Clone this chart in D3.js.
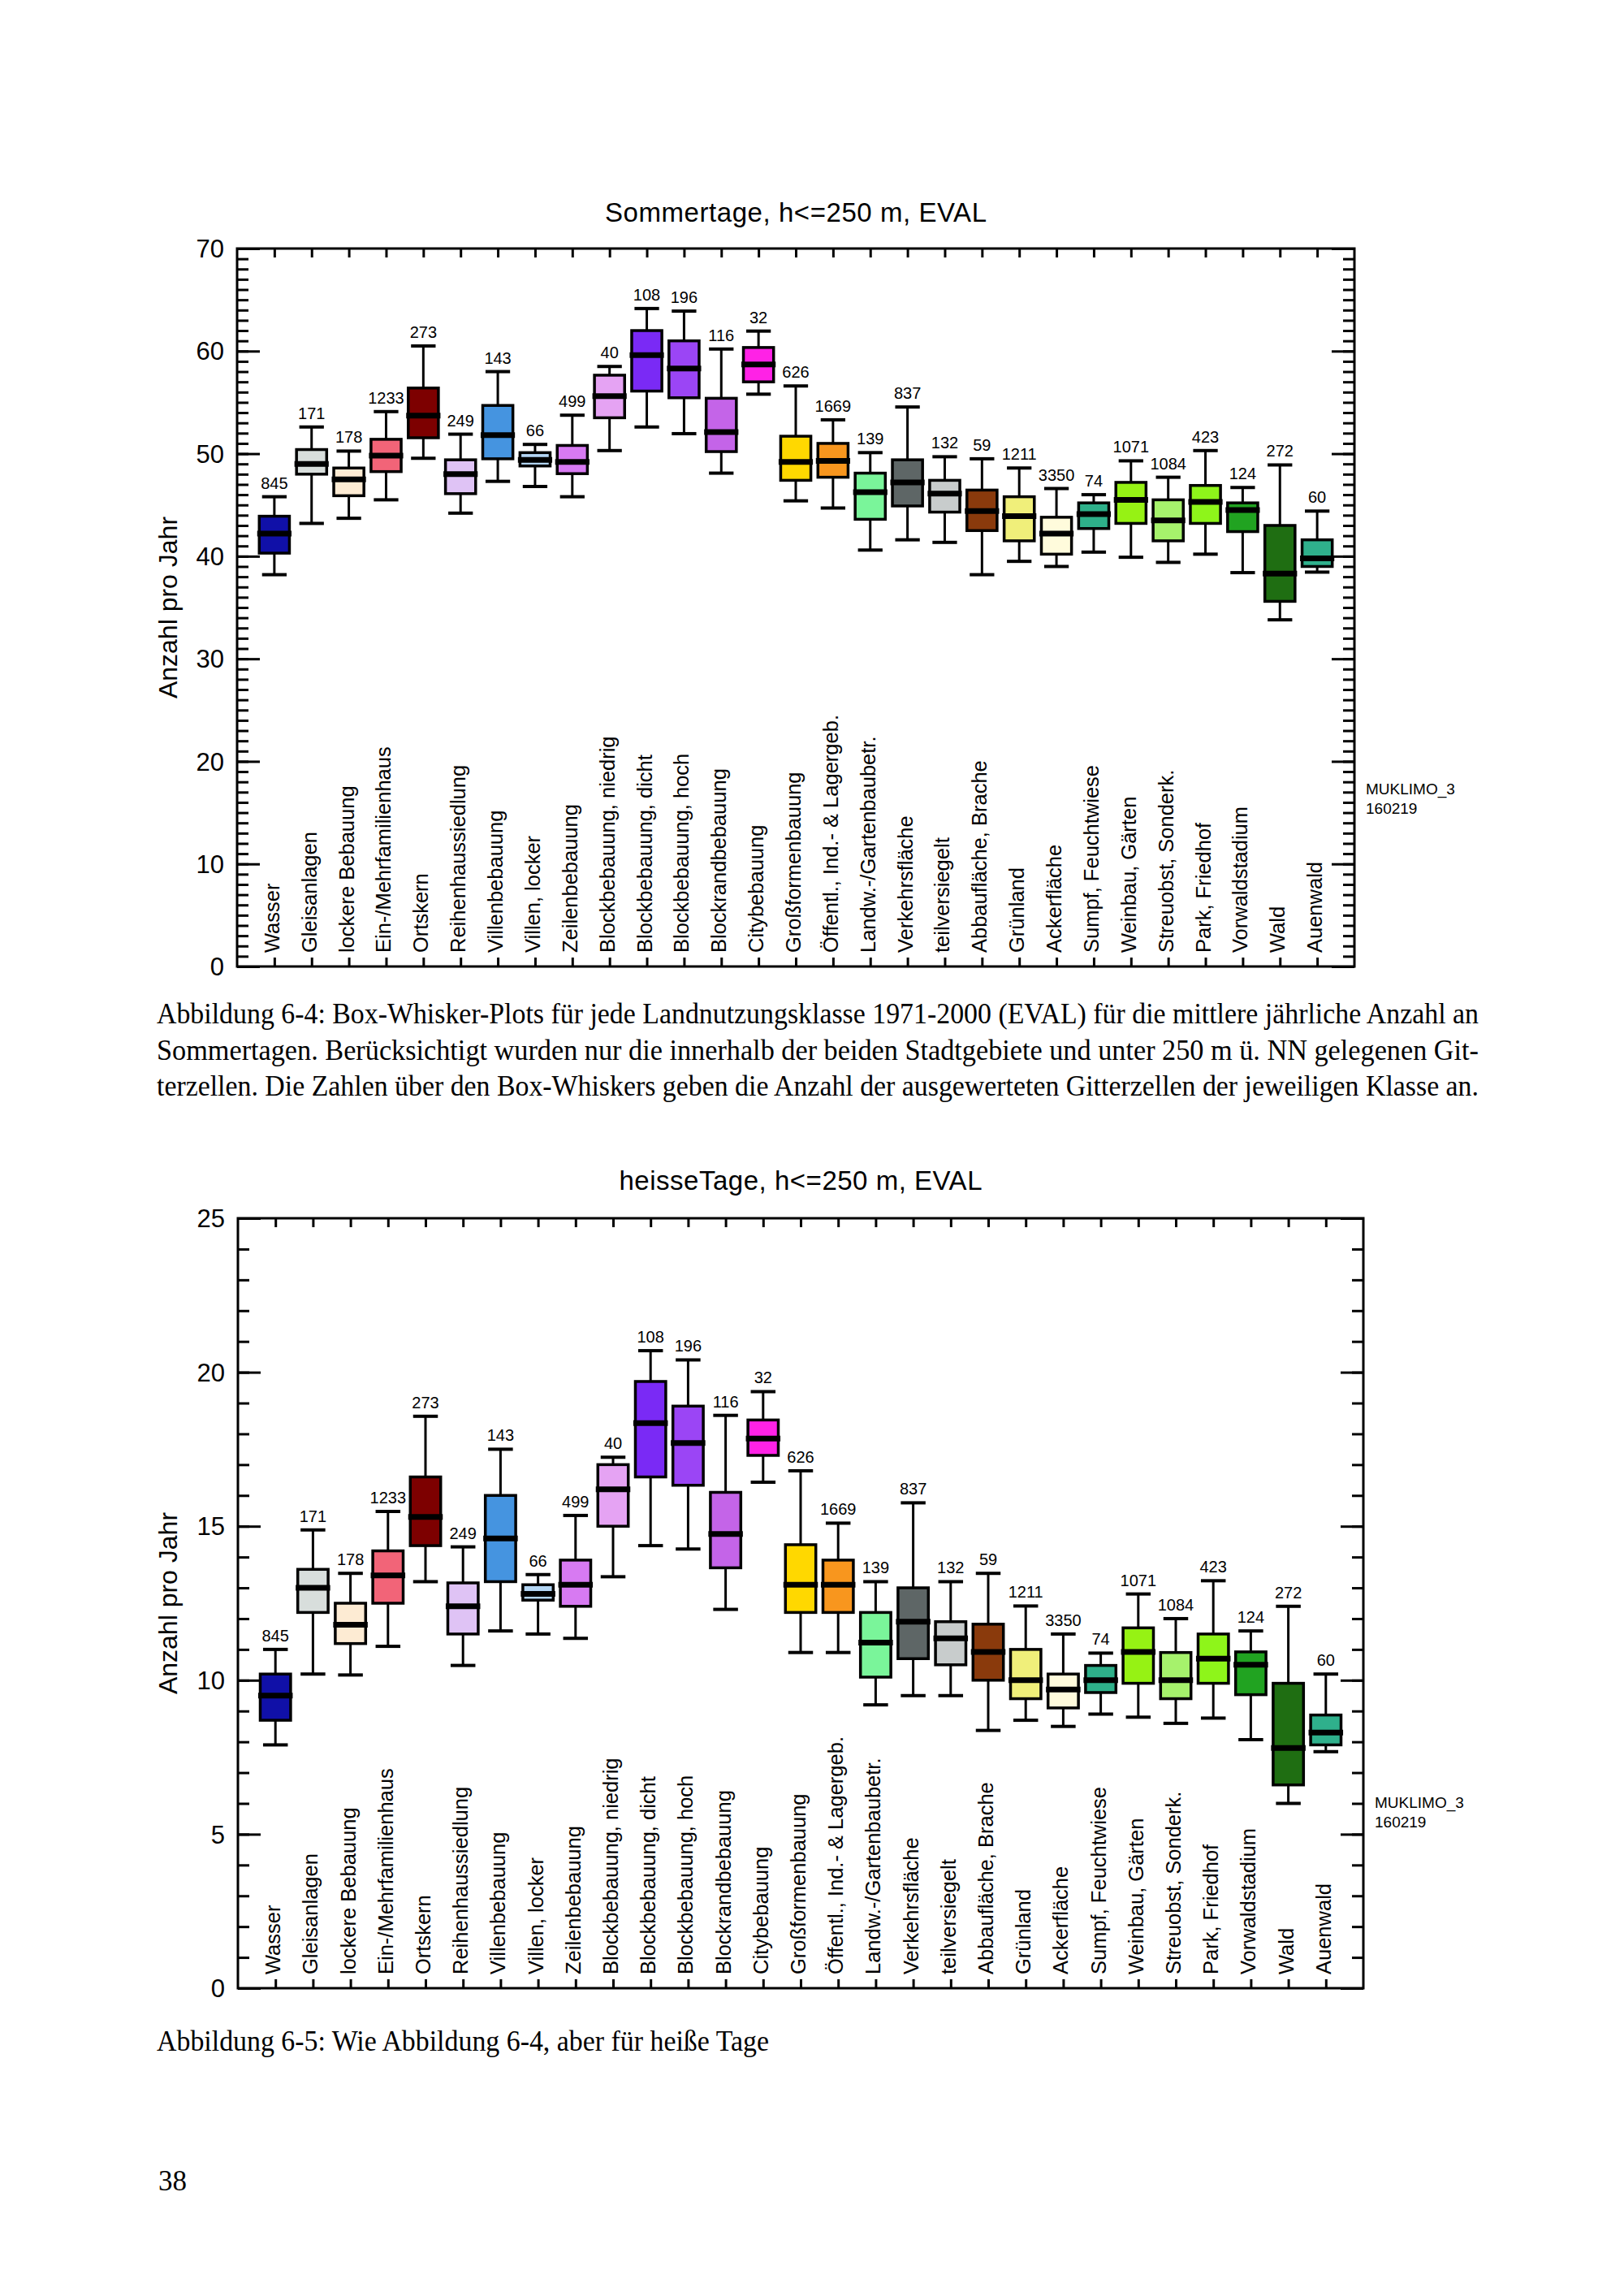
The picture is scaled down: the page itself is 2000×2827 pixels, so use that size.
<!DOCTYPE html>
<html>
<head>
<meta charset="utf-8">
<script src="https://cdn.jsdelivr.net/npm/d3@7"></script>
<style>
body { margin: 0; background: #fff; }
</style>
</head>
<body>
<script>
var w = 2000;
var h = 2827;

// Landnutzungsklassen
var categories = ["Wasser", "Gleisanlagen", "lockere Bebauung", "Ein-/Mehrfamilienhaus", "Ortskern",
    "Reihenhaussiedlung", "Villenbebauung", "Villen, locker", "Zeilenbebauung", "Blockbebauung, niedrig",
    "Blockbebauung, dicht", "Blockbebauung, hoch", "Blockrandbebauung", "Citybebauung", "Großformenbauung",
    "Öffentl., Ind.- & Lagergeb.", "Landw.-/Gartenbaubetr.", "Verkehrsfläche", "teilversiegelt",
    "Abbaufläche, Brache", "Grünland", "Ackerfläche", "Sumpf, Feuchtwiese", "Weinbau, Gärten",
    "Streuobst, Sonderk.", "Park, Friedhof", "Vorwaldstadium", "Wald", "Auenwald"];
var counts = [845, 171, 178, 1233, 273, 249, 143, 66, 499, 40, 108, 196, 116, 32, 626,
    1669, 139, 837, 132, 59, 1211, 3350, 74, 1071, 1084, 423, 124, 272, 60];
var boxColors = ["#1010a8", "#d8dedc", "#fdebd3", "#f26478", "#7d0000", "#dfc3f5", "#4594e0", "#b4d6f4",
    "#d77af2", "#e5a3f3", "#7a2af5", "#9b45f5", "#c464e8", "#ff22e6", "#ffd800", "#f8961e", "#7af59a",
    "#5e6666", "#c8cccc", "#8a3a0c", "#f0ef7a", "#fffbdc", "#2eb08a", "#96f214", "#a6f26c", "#8ef51a",
    "#21a321", "#1f6e12", "#2fb08c"];

// Sommertage
var sommerHigh = [45.8, 52.6, 50.25, 54.1, 60.5, 51.9, 58.0, 50.9, 53.75, 58.5, 64.15, 63.9, 60.2, 61.95, 56.6,
    53.3, 50.1, 54.55, 49.7, 49.5, 48.6, 46.6, 46.0, 49.3, 47.7, 50.3, 46.7, 48.9, 44.4];
var sommerQ3 = [43.9, 50.4, 48.6, 51.4, 56.4, 49.4, 54.7, 50.1, 50.8, 57.65, 62.0, 61.0, 55.4, 60.35, 51.7,
    51.0, 48.1, 49.4, 47.4, 46.45, 45.8, 43.8, 45.2, 47.2, 45.5, 46.9, 45.2, 43.0, 41.6];
var sommerMed = [42.2, 49.0, 47.5, 49.8, 53.7, 48.0, 51.8, 49.4, 49.2, 55.6, 59.6, 58.3, 52.1, 58.7, 49.2,
    49.3, 46.25, 47.2, 46.1, 44.4, 43.9, 42.2, 44.1, 45.5, 43.5, 45.3, 44.5, 38.3, 39.8];
var sommerQ1 = [40.3, 48.0, 45.9, 48.25, 51.55, 46.1, 49.5, 48.8, 48.05, 53.5, 56.1, 55.45, 50.2, 57.0, 47.4,
    47.7, 43.6, 44.9, 44.3, 42.5, 41.5, 40.2, 42.7, 43.2, 41.5, 43.2, 42.4, 35.6, 39.0];
var sommerLow = [38.2, 43.2, 43.7, 45.5, 49.55, 44.2, 47.3, 46.8, 45.8, 50.3, 52.6, 51.95, 48.1, 55.8, 45.4,
    44.7, 40.6, 41.6, 41.35, 38.2, 39.5, 39.0, 40.4, 39.9, 39.4, 40.2, 38.4, 33.8, 38.45];
var sommerTicks = [0, 10, 20, 30, 40, 50, 60, 70];

// heisse Tage
var heissHigh = [11.0, 14.88, 13.47, 15.48, 18.57, 14.33, 17.5, 13.43, 15.35, 17.24, 20.7, 20.4, 18.6, 19.37, 16.8,
    15.1, 13.2, 15.76, 13.2, 13.47, 12.41, 11.5, 10.88, 12.8, 12.0, 13.23, 11.6, 12.4, 10.2];
var heissQ3 = [10.2, 13.6, 12.5, 14.2, 16.6, 13.16, 16.0, 13.1, 13.9, 17.0, 19.7, 18.9, 16.1, 18.45, 14.4,
    13.9, 12.2, 13.0, 11.9, 11.82, 11.0, 10.2, 10.48, 11.7, 10.9, 11.5, 10.92, 9.9, 8.87];
var heissMed = [9.5, 13.0, 11.8, 13.4, 15.3, 12.4, 14.6, 12.8, 13.1, 16.2, 18.35, 17.7, 14.75, 17.85, 13.1,
    13.1, 11.22, 11.9, 11.36, 10.92, 10.0, 9.7, 10.0, 10.92, 10.0, 10.7, 10.5, 7.8, 8.3];
var heissQ1 = [8.7, 12.2, 11.19, 12.5, 14.37, 11.5, 13.2, 12.6, 12.4, 15.0, 16.6, 16.33, 13.65, 17.3, 12.2,
    12.2, 10.1, 10.7, 10.5, 10.0, 9.4, 9.1, 9.6, 9.9, 9.4, 9.9, 9.53, 6.6, 7.9];
var heissLow = [7.9, 10.2, 10.17, 11.1, 13.2, 10.48, 11.6, 11.5, 11.36, 13.36, 14.37, 14.26, 12.3, 16.43, 10.9,
    10.9, 9.2, 9.5, 9.5, 8.37, 8.7, 8.5, 8.9, 8.8, 8.6, 8.77, 8.07, 6.0, 7.68];
var heissTicks = [0, 5, 10, 15, 20, 25];

var caption1 = [
    "Abbildung 6-4: Box-Whisker-Plots für jede Landnutzungsklasse 1971-2000 (EVAL) für die mittlere jährliche Anzahl an",
    "Sommertagen. Berücksichtigt wurden nur die innerhalb der beiden Stadtgebiete und unter 250 m ü. NN gelegenen Git-",
    "terzellen. Die Zahlen über den Box-Whiskers geben die Anzahl der ausgewerteten Gitterzellen der jeweiligen Klasse an."
];
var caption2 = "Abbildung 6-5: Wie Abbildung 6-4, aber für heiße Tage";

var sans = "'Liberation Sans', Arial, Helvetica, sans-serif";
var serif = "'Liberation Serif', 'Times New Roman', serif";

var svg = d3.select("body")
    .append("svg")
    .attr("width", w)
    .attr("height", h);

svg.append("rect").attr("width", w).attr("height", h).attr("fill", "#fff");

function drawChart(cfg) {
    var g = svg.append("g");
    var x = d3.scalePoint()
        .domain(categories)
        .range([cfg.left, cfg.right])
        .padding(1);
    var y = d3.scaleLinear()
        .domain([0, cfg.yMax])
        .range([cfg.bottom, cfg.top]);
    var step = x.step();
    var minor = d3.range(0, cfg.yMax + 1, 1);

    // ticks, all pointing inwards
    function ticks(axis, tx, ty, vals, size) {
        var a = g.append("g")
            .attr("transform", "translate(" + tx + "," + ty + ")")
            .call(axis.tickValues(vals).tickSize(size).tickFormat(""));
        a.select(".domain").remove();
        a.selectAll(".tick line").attr("stroke", "#000").attr("stroke-width", 3);
    }
    ticks(d3.axisRight(y), cfg.left, 0, minor, 14);
    ticks(d3.axisRight(y), cfg.left, 0, cfg.ticks, 28);
    ticks(d3.axisLeft(y), cfg.right, 0, minor, 14);
    ticks(d3.axisLeft(y), cfg.right, 0, cfg.ticks, 28);
    ticks(d3.axisBottom(x), 0, cfg.top, categories, 11);
    ticks(d3.axisTop(x), 0, cfg.bottom, categories, 11);

    // y tick labels
    g.selectAll(".ylab")
        .data(cfg.ticks)
        .enter().append("text")
        .attr("x", cfg.left - 16)
        .attr("y", function(d) { return y(d); })
        .attr("dy", "0.36em")
        .attr("text-anchor", "end")
        .attr("font-family", sans)
        .attr("font-size", 31)
        .text(function(d) { return d; });

    // frame
    g.append("rect")
        .attr("x", cfg.left).attr("y", cfg.top)
        .attr("width", cfg.right - cfg.left).attr("height", cfg.bottom - cfg.top)
        .attr("fill", "none").attr("stroke", "#000").attr("stroke-width", 3);

    // category labels, rotated
    g.selectAll(".xlab")
        .data(categories)
        .enter().append("text")
        .attr("transform", function(d) {
            return "translate(" + (x(d) + 6) + "," + (cfg.bottom - 17) + ") rotate(-90)";
        })
        .attr("font-family", sans)
        .attr("font-size", 25.5)
        .text(function(d) { return d; });

    var boxW = step * 0.81, capW = step * 0.66, medW = step * 0.92;
    var box = g.selectAll(".box")
        .data(categories)
        .enter().append("g");

    box.append("line")
        .attr("x1", function(d) { return x(d); })
        .attr("x2", function(d) { return x(d); })
        .attr("y1", function(d, i) { return y(cfg.low[i]); })
        .attr("y2", function(d, i) { return y(cfg.high[i]); })
        .attr("stroke", "#000").attr("stroke-width", 3);
    [cfg.low, cfg.high].forEach(function(arr) {
        box.append("line")
            .attr("x1", function(d) { return x(d) - capW / 2; })
            .attr("x2", function(d) { return x(d) + capW / 2; })
            .attr("y1", function(d, i) { return y(arr[i]); })
            .attr("y2", function(d, i) { return y(arr[i]); })
            .attr("stroke", "#000").attr("stroke-width", 4);
    });
    box.append("rect")
        .attr("x", function(d) { return x(d) - boxW / 2; })
        .attr("y", function(d, i) { return y(cfg.q3[i]); })
        .attr("width", boxW)
        .attr("height", function(d, i) { return y(cfg.q1[i]) - y(cfg.q3[i]); })
        .attr("fill", function(d, i) { return boxColors[i]; })
        .attr("stroke", "#000").attr("stroke-width", 3.5);
    box.append("line")
        .attr("x1", function(d) { return x(d) - medW / 2; })
        .attr("x2", function(d) { return x(d) + medW / 2; })
        .attr("y1", function(d, i) { return y(cfg.med[i]); })
        .attr("y2", function(d, i) { return y(cfg.med[i]); })
        .attr("stroke", "#000").attr("stroke-width", 7);
    box.append("text")
        .attr("x", function(d) { return x(d); })
        .attr("y", function(d, i) { return y(cfg.high[i]) - 10; })
        .attr("text-anchor", "middle")
        .attr("font-family", sans)
        .attr("font-size", 20)
        .text(function(d, i) { return counts[i]; });

    // titles
    g.append("text")
        .attr("x", (cfg.left + cfg.right) / 2)
        .attr("y", cfg.titleY)
        .attr("text-anchor", "middle")
        .attr("font-family", sans)
        .attr("font-size", 33)
        .attr("textLength", cfg.titleW)
        .attr("lengthAdjust", "spacing")
        .text(cfg.title);
    g.append("text")
        .attr("transform", "translate(218," + ((cfg.top + cfg.bottom) / 2) + ") rotate(-90)")
        .attr("text-anchor", "middle")
        .attr("font-family", sans)
        .attr("font-size", 32)
        .text("Anzahl pro Jahr");
    g.append("text")
        .attr("x", cfg.right + 14).attr("y", cfg.stampY)
        .attr("font-family", sans).attr("font-size", 19)
        .text("MUKLIMO_3");
    g.append("text")
        .attr("x", cfg.right + 14).attr("y", cfg.stampY + 24)
        .attr("font-family", sans).attr("font-size", 19)
        .text("160219");
}

drawChart({
    left: 292, right: 1668, top: 306, bottom: 1190, yMax: 70,
    ticks: sommerTicks, titleY: 273, stampY: 978, titleW: 470,
    title: "Sommertage, h<=250 m, EVAL",
    low: sommerLow, q1: sommerQ1, med: sommerMed, q3: sommerQ3, high: sommerHigh
});

drawChart({
    left: 293, right: 1679, top: 1500, bottom: 2448, yMax: 25,
    ticks: heissTicks, titleY: 1465, stampY: 2226, titleW: 447,
    title: "heisseTage, h<=250 m, EVAL",
    low: heissLow, q1: heissQ1, med: heissMed, q3: heissQ3, high: heissHigh
});

// captions
svg.selectAll(".cap1")
    .data(caption1)
    .enter().append("text")
    .attr("x", 193)
    .attr("y", function(d, i) { return 1260 + i * 44.5; })
    .attr("font-family", serif)
    .attr("font-size", 35)
    .attr("textLength", 1628)
    .attr("lengthAdjust", "spacingAndGlyphs")
    .text(function(d) { return d; });

svg.append("text")
    .attr("x", 193).attr("y", 2525)
    .attr("font-family", serif).attr("font-size", 35)
    .attr("textLength", 754)
    .attr("lengthAdjust", "spacingAndGlyphs")
    .text(caption2);

svg.append("text")
    .attr("x", 195).attr("y", 2697)
    .attr("font-family", serif).attr("font-size", 35)
    .text("38");
</script>
</body>
</html>
